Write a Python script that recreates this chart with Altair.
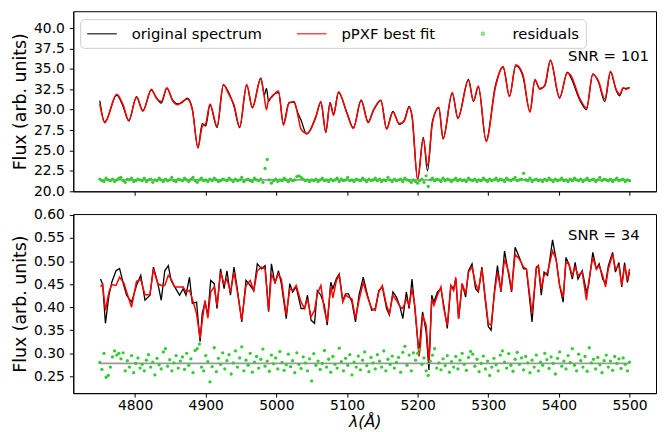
import altair as alt
import pandas as pd

# ---------------- top panel (SNR = 101) ----------------
top_wave = [4750, 4757, 4774, 4783, 4791, 4802, 4811, 4823, 4830, 4837,
            4845, 4853, 4860, 4867, 4874, 4881, 4889, 4895, 4900, 4906,
            4916, 4925, 4932, 4940, 4948, 4958, 4966, 4978, 4983, 4986,
            4989, 4993, 5003, 5010, 5018, 5025, 5030, 5035, 5043, 5056,
            5063, 5070, 5076, 5081, 5088, 5100, 5109, 5120, 5130, 5137,
            5148, 5156, 5165, 5174, 5181, 5188, 5192, 5200, 5208, 5214,
            5221, 5230, 5236, 5249, 5257, 5272, 5279, 5286, 5297, 5310,
            5321, 5330, 5339, 5349, 5359, 5366, 5373, 5380, 5388, 5401,
            5412, 5416, 5430, 5439, 5448, 5456, 5465, 5473, 5481, 5486,
            5491, 5495, 5500]
top_fit = [30.7, 28.4, 31.9, 30.6, 28.7, 31.5, 29.8, 32.5, 31.4, 31.0,
           32.7, 31.1, 30.6, 31.0, 31.3, 30.0, 25.4, 27.9, 28.3, 30.7,
           28.0, 33.1, 32.0, 30.6, 27.9, 33.1, 30.2, 33.8, 31.5, 30.0,
           31.2, 31.5, 32.3, 28.1, 30.8, 31.0, 29.5, 27.6, 27.1, 29.1,
           31.0, 27.3, 30.8, 29.3, 32.2, 29.5, 27.7, 31.1, 28.4, 29.9,
           31.2, 27.6, 29.7, 28.3, 28.6, 30.3, 29.3, 21.4, 26.4, 23.2,
           28.4, 30.3, 26.4, 32.1, 28.9, 33.6, 31.1, 32.9, 26.1, 32.7,
           35.3, 31.6, 35.5, 34.3, 29.7, 33.7, 32.5, 33.0, 36.1, 31.5,
           34.5, 34.3, 31.3, 30.2, 34.3, 33.5, 31.3, 34.7, 32.5, 31.9,
           32.7, 32.5, 32.7]
top_orig = [31.1, 28.5, 31.8, 30.4, 28.6, 31.6, 29.9, 32.4, 31.5, 30.8,
            32.6, 31.2, 30.7, 30.9, 31.4, 30.1, 25.3, 28.3, 28.0, 30.6,
            27.8, 33.0, 32.2, 30.4, 27.8, 33.0, 30.3, 33.9, 31.8, 32.6,
            31.0, 31.6, 32.1, 28.3, 30.9, 30.9, 29.7, 28.7, 27.0, 29.2,
            30.9, 27.2, 30.9, 29.5, 32.1, 29.6, 27.8, 31.2, 28.5, 29.8,
            31.1, 27.7, 29.8, 28.2, 28.7, 30.4, 29.2, 21.5, 26.6, 22.5,
            28.6, 30.2, 26.5, 32.0, 29.0, 33.7, 31.0, 32.8, 26.2, 32.9,
            35.2, 31.7, 35.4, 34.1, 29.8, 33.6, 32.6, 32.9, 36.0, 31.4,
            34.6, 34.1, 31.1, 30.0, 34.4, 33.4, 31.0, 34.6, 32.4, 31.7,
            32.6, 32.6, 32.7]

# ---------------- bottom panel (SNR = 34) ----------------
bot_wave = [4751, 4754, 4758, 4763, 4767, 4773, 4778, 4784, 4788, 4795,
            4802, 4808, 4814, 4821, 4826, 4832, 4837, 4842, 4847, 4851,
            4856, 4863, 4868, 4872, 4877, 4881, 4887, 4892, 4895, 4899,
            4903, 4907, 4912, 4916, 4921, 4926, 4930, 4935, 4940, 4944,
            4951, 4957, 4963, 4968, 4973, 4979, 4984, 4989, 4993, 4998,
            5003, 5007, 5014, 5019, 5023, 5028, 5035, 5040, 5044, 5049,
            5054, 5058, 5063, 5068, 5072, 5077, 5080, 5085, 5089, 5094,
            5098, 5102, 5107, 5112, 5117, 5123, 5129, 5135, 5140, 5145,
            5150, 5156, 5160, 5165, 5170, 5175, 5179, 5184, 5188, 5192,
            5196, 5202, 5204, 5207, 5212, 5216, 5220, 5223, 5228, 5233,
            5237, 5242, 5247, 5251, 5254, 5258, 5263, 5268, 5272, 5277,
            5282, 5286, 5291, 5296, 5300, 5304, 5309, 5313, 5318, 5323,
            5329, 5333, 5338, 5344, 5350, 5354, 5362, 5368, 5371, 5375,
            5379, 5384, 5391, 5396, 5401, 5406, 5410, 5414, 5419, 5423,
            5427, 5433, 5439, 5442, 5448, 5453, 5457, 5462, 5466, 5470,
            5476, 5480, 5485, 5489, 5493, 5497, 5500]
bot_fit = [0.444, 0.450, 0.393, 0.433, 0.449, 0.447, 0.465, 0.453, 0.433, 0.400,
           0.456, 0.460, 0.427, 0.427, 0.483, 0.451, 0.447, 0.447, 0.469, 0.461,
           0.444, 0.444, 0.444, 0.433, 0.436, 0.418, 0.386, 0.332, 0.369, 0.415,
           0.376, 0.433, 0.444, 0.404, 0.476, 0.451, 0.461, 0.433, 0.476, 0.440,
           0.372, 0.447, 0.458, 0.436, 0.479, 0.487, 0.483, 0.393, 0.472, 0.454,
           0.472, 0.461, 0.383, 0.440, 0.436, 0.447, 0.411, 0.397, 0.418, 0.379,
           0.393, 0.429, 0.447, 0.393, 0.368, 0.447, 0.420, 0.458, 0.469, 0.411,
           0.426, 0.422, 0.418, 0.375, 0.415, 0.454, 0.422, 0.397, 0.393, 0.433,
           0.447, 0.404, 0.386, 0.426, 0.415, 0.401, 0.397, 0.418, 0.404, 0.440,
           0.404, 0.293, 0.318, 0.383, 0.361, 0.282, 0.418, 0.404, 0.426, 0.444,
           0.397, 0.361, 0.447, 0.436, 0.465, 0.375, 0.451, 0.429, 0.476, 0.487,
           0.451, 0.436, 0.483, 0.418, 0.365, 0.361, 0.433, 0.476, 0.436, 0.504,
           0.476, 0.436, 0.515, 0.504, 0.487, 0.483, 0.386, 0.483, 0.490, 0.440,
           0.469, 0.476, 0.522, 0.504, 0.447, 0.422, 0.497, 0.494, 0.469, 0.487,
           0.469, 0.476, 0.415, 0.454, 0.508, 0.483, 0.490, 0.469, 0.444, 0.483,
           0.515, 0.483, 0.490, 0.447, 0.490, 0.458, 0.483]
bot_orig = [0.461, 0.450, 0.365, 0.426, 0.454, 0.479, 0.484, 0.447, 0.426, 0.411,
            0.447, 0.469, 0.415, 0.426, 0.487, 0.453, 0.415, 0.479, 0.490, 0.458,
            0.444, 0.426, 0.440, 0.426, 0.465, 0.408, 0.411, 0.325, 0.386, 0.411,
            0.383, 0.458, 0.451, 0.397, 0.483, 0.440, 0.479, 0.426, 0.487, 0.447,
            0.368, 0.458, 0.447, 0.436, 0.494, 0.483, 0.490, 0.390, 0.494, 0.451,
            0.479, 0.451, 0.375, 0.451, 0.433, 0.444, 0.397, 0.397, 0.426, 0.372,
            0.365, 0.436, 0.426, 0.404, 0.361, 0.454, 0.440, 0.462, 0.472, 0.415,
            0.429, 0.429, 0.411, 0.368, 0.426, 0.465, 0.426, 0.393, 0.397, 0.436,
            0.444, 0.397, 0.383, 0.433, 0.422, 0.401, 0.375, 0.433, 0.397, 0.461,
            0.397, 0.297, 0.340, 0.390, 0.347, 0.264, 0.426, 0.411, 0.433, 0.440,
            0.404, 0.354, 0.447, 0.440, 0.461, 0.375, 0.451, 0.422, 0.479, 0.494,
            0.440, 0.433, 0.487, 0.411, 0.358, 0.350, 0.440, 0.490, 0.433, 0.522,
            0.469, 0.433, 0.530, 0.508, 0.483, 0.483, 0.368, 0.487, 0.490, 0.426,
            0.476, 0.469, 0.546, 0.504, 0.447, 0.411, 0.508, 0.494, 0.461, 0.497,
            0.461, 0.479, 0.433, 0.447, 0.519, 0.483, 0.494, 0.461, 0.451, 0.490,
            0.519, 0.476, 0.497, 0.444, 0.497, 0.454, 0.476]

# ---------------- residuals (sampled every 3 A from 4750 to 5500) ----------------
resid_wave = list(range(4750, 5501, 3))
resid_top = [21.5, 21.3, 21.2, 21.6, 21.4, 21.3, 21.5, 21.2, 21.4, 21.6,
             21.7, 21.3, 21.1, 21.5, 21.4, 21.6, 21.2, 21.3, 21.5, 21.4,
             21.3, 21.6, 21.2, 21.4, 21.5, 21.1, 21.4, 21.3, 21.6, 21.4,
             21.2, 21.5, 21.3, 21.4, 21.7, 21.3, 21.2, 21.5, 21.4, 21.3,
             21.6, 21.4, 21.2, 21.5, 21.7, 21.3, 21.1, 21.4, 21.6, 21.3,
             21.4, 21.2, 21.5, 21.3, 21.6, 21.4, 21.2, 21.3, 21.5, 21.4,
             21.3, 21.6, 21.4, 21.2, 21.5, 21.3, 21.4, 21.7, 21.2, 21.4,
             21.5, 21.3, 21.2, 21.6, 21.4, 21.3, 21.5, 21.1, 22.8, 23.9,
             21.4, 21.0, 21.3, 21.5, 21.2, 21.4, 21.3, 21.6, 21.4, 21.2,
             21.5, 21.3, 21.4, 21.8, 21.9, 21.7, 21.5, 21.3, 21.4, 21.2,
             21.4, 21.3, 21.5, 21.2, 21.4, 21.6, 21.3, 21.4, 21.2, 21.5,
             21.3, 21.4, 21.6, 21.2, 21.5, 21.3, 21.4, 21.7, 21.3, 21.4,
             21.2, 21.5, 21.4, 21.3, 21.6, 21.4, 21.2, 21.5, 21.3, 21.4,
             21.6, 21.3, 21.5, 21.2, 21.4, 21.3, 21.7, 21.4, 21.2, 21.5,
             21.3, 21.4, 21.5, 21.2, 21.6, 21.4, 21.3, 21.1, 21.4, 21.2,
             21.0, 21.3, 21.5, 21.1, 21.9, 20.6, 21.4, 21.6, 21.3, 21.5,
             21.4, 21.2, 21.6, 21.3, 21.5, 21.4, 21.2, 21.4, 21.6, 21.3,
             21.5, 21.3, 21.4, 21.2, 21.6, 21.4, 21.3, 21.5, 21.2, 21.4,
             21.3, 21.6, 21.4, 21.2, 21.5, 21.3, 21.4, 21.6, 21.3, 21.5,
             21.4, 21.2, 21.6, 21.4, 21.3, 21.5, 21.7, 21.3, 21.4, 21.5,
             22.2, 21.4, 21.3, 21.6, 21.2, 21.4, 21.5, 21.3, 21.4, 21.2,
             21.5, 21.3, 21.6, 21.4, 21.2, 21.5, 21.3, 21.4, 21.6, 21.3,
             21.4, 21.2, 21.5, 21.3, 21.6, 21.4, 21.3, 21.5, 21.2, 21.4,
             21.6, 21.3, 21.4, 21.5, 21.2, 21.4, 21.7, 21.3, 21.5, 21.4,
             21.3, 21.5, 21.2, 21.4, 21.6, 21.3, 21.4, 21.5, 21.2, 21.4, 21.3]
resid_bot = [0.280, 0.265, 0.300, 0.248, 0.252, 0.270, 0.292, 0.305, 0.296, 0.300,
             0.288, 0.301, 0.262, 0.284, 0.270, 0.295, 0.258, 0.278, 0.290, 0.268,
             0.276, 0.262, 0.285, 0.297, 0.270, 0.281, 0.253, 0.289, 0.275, 0.266,
             0.303, 0.310, 0.272, 0.286, 0.262, 0.279, 0.295, 0.268, 0.283, 0.292,
             0.265, 0.300, 0.274, 0.288, 0.258, 0.306, 0.310, 0.320, 0.270, 0.262,
             0.295, 0.282, 0.238, 0.271, 0.312, 0.260, 0.289, 0.276, 0.301, 0.266,
             0.284, 0.297, 0.255, 0.279, 0.305, 0.270, 0.290, 0.314, 0.262, 0.285,
             0.274, 0.300, 0.259, 0.281, 0.293, 0.268, 0.287, 0.309, 0.272, 0.283,
             0.261, 0.296, 0.277, 0.290, 0.266, 0.304, 0.280, 0.263, 0.275, 0.298,
             0.271, 0.284, 0.258, 0.301, 0.276, 0.267, 0.292, 0.279, 0.262, 0.288,
             0.240, 0.299, 0.274, 0.283, 0.265, 0.278, 0.306, 0.270, 0.287, 0.259,
             0.293, 0.276, 0.268, 0.311, 0.282, 0.262, 0.289, 0.274, 0.297, 0.253,
             0.281, 0.270, 0.294, 0.264, 0.285, 0.303, 0.273, 0.260, 0.291, 0.279,
             0.266, 0.297, 0.283, 0.270, 0.305, 0.262, 0.287, 0.276, 0.294, 0.268,
             0.280, 0.291, 0.259, 0.302, 0.315, 0.274, 0.296, 0.262, 0.301, 0.285,
             0.300, 0.308, 0.276, 0.290, 0.262, 0.252, 0.283, 0.296, 0.310, 0.268,
             0.279, 0.264, 0.288, 0.273, 0.295, 0.259, 0.282, 0.270, 0.293, 0.266,
             0.285, 0.300, 0.276, 0.263, 0.291, 0.304, 0.298, 0.272, 0.287, 0.260,
             0.278, 0.294, 0.266, 0.283, 0.252, 0.270, 0.289, 0.275, 0.262, 0.296,
             0.305, 0.281, 0.268, 0.299, 0.274, 0.261, 0.287, 0.302, 0.276, 0.290,
             0.264, 0.293, 0.279, 0.258, 0.285, 0.270, 0.296, 0.262, 0.281, 0.274,
             0.300, 0.286, 0.267, 0.292, 0.278, 0.255, 0.289, 0.303, 0.272, 0.283,
             0.266, 0.295, 0.280, 0.310, 0.274, 0.262, 0.298, 0.284, 0.270, 0.293,
             0.261, 0.312, 0.279, 0.287, 0.266, 0.291, 0.275, 0.258, 0.284, 0.296,
             0.270, 0.283, 0.263, 0.293, 0.278, 0.288, 0.267, 0.290, 0.276, 0.262, 0.281]
top_base = 21.4
bot_base = 0.278

series = ["original spectrum", "pPXF best fit", "residuals"]
colors = ["black", "red", "#33cc33"]
x_ticks = [4800, 4900, 5000, 5100, 5200, 5300, 5400, 5500]
top_ticks = [20.0, 22.5, 25.0, 27.5, 30.0, 32.5, 35.0, 37.5, 40.0]
bot_ticks = [0.25, 0.30, 0.35, 0.40, 0.45, 0.50, 0.55, 0.60]

GREEN = "#33cc33"
xscale = alt.Scale(domain=[4712.5, 5537.5], nice=False, zero=False)
YTITLE = "Flux (arb. units)"
LINE_SYM = "M-1,0H3"
DOT_SYM = "M0.8,0A0.2,0.2,0,1,1,1.2,0A0.2,0.2,0,1,1,0.8,0Z"


def panel(wave, fit, orig, resid, base, ydomain, yticks, yfmt, snr, snr_y,
          height, bottom, legend):
    spec = pd.DataFrame({"w": wave, "fit": fit, "orig": orig})
    res = pd.DataFrame({"w": resid_wave, "r": resid})
    base_df = pd.DataFrame({"x": [4750], "x2": [5500], "y": [base]})
    txt = pd.DataFrame({"x": [5413], "y": [snr_y], "t": [snr]})
    ysc = alt.Scale(domain=ydomain, nice=False, zero=False)
    if bottom:
        xax = alt.Axis(values=x_ticks, tickCount=20, format="d", title="λ(Å)",
                       titleFontStyle="italic", titleFontSize=16, labelPadding=2,
                       titlePadding=1)
    else:
        xax = alt.Axis(values=x_ticks, tickCount=20, labels=False, title=None)
    yax = alt.Axis(values=yticks, tickCount=20, format=yfmt, title=YTITLE,
                   labelOverlap=False)
    interp = "linear" if bottom else "monotone"

    base_chart = alt.Chart(spec)
    orig_l = base_chart.mark_line(color="black", strokeWidth=1.3, interpolate=interp).encode(
        x=alt.X("w:Q", scale=xscale, axis=xax), y=alt.Y("orig:Q", scale=ysc, axis=yax))
    fit_l = base_chart.mark_line(color="red", strokeWidth=1.5, interpolate=interp).encode(
        x="w:Q", y="fit:Q")
    rule = alt.Chart(base_df).mark_rule(color="#999999", strokeWidth=1.6).encode(
        x="x:Q", x2="x2:Q", y="y:Q")
    pts = alt.Chart(res).mark_circle(size=11, color=GREEN, opacity=1).encode(
        x="w:Q", y="r:Q")
    t = alt.Chart(txt).mark_text(align="left", baseline="middle", fontSize=15,
                                 color="black").encode(x="x:Q", y="y:Q", text="t:N")
    layers = [orig_l, fit_l, rule, pts, t]
    if legend:
        leg_df = pd.DataFrame({"series": series, "w": [4000, 4000, 4000],
                               "f": [30, 30, 30]})
        lg = alt.Legend(orient="none", legendX=7, legendY=8, direction="horizontal",
                        title=None, labelFontSize=15, labelColor="black",
                        symbolSize=225, symbolStrokeWidth=1.5, labelOffset=29,
                        columnPadding=32, padding=6, fillColor="white",
                        strokeColor="#cccccc", cornerRadius=4)
        leg = alt.Chart(leg_df).mark_point(filled=False, clip=True).encode(
            x="w:Q", y="f:Q",
            color=alt.Color("series:N", scale=alt.Scale(domain=series, range=colors),
                            legend=lg, sort=series),
            shape=alt.Shape("series:N",
                            scale=alt.Scale(domain=series,
                                            range=[LINE_SYM, LINE_SYM, DOT_SYM]),
                            legend=lg, sort=series))
        layers.append(leg)
    return alt.layer(*layers).properties(width=589, height=height)


top = panel(top_wave, top_fit, top_orig, resid_top, top_base, [20, 42.06], top_ticks,
            ".1f", "SNR = 101", 36.6, 182, False, True)
bot = panel(bot_wave, bot_fit, bot_orig, resid_bot, bot_base, [0.2135, 0.602], bot_ticks,
            ".2f", "SNR = 34", 0.557, 181, True, False)

chart = alt.vconcat(top, bot, spacing=8).properties(
    padding={"left": 3, "top": 0, "right": 2, "bottom": 0}
).configure(font="DejaVu Sans").configure_view(
    stroke="black", strokeWidth=1
).configure_axis(
    grid=False, labelFontSize=14, titleFontSize=17.5, titleFontWeight="normal",
    tickColor="black", domainColor="black", labelColor="black", titleColor="black",
    tickSize=4, labelPadding=5, titlePadding=4, labelOverlap=False
)

chart.save("out.html", embed_options={"renderer": "svg", "actions": False})
